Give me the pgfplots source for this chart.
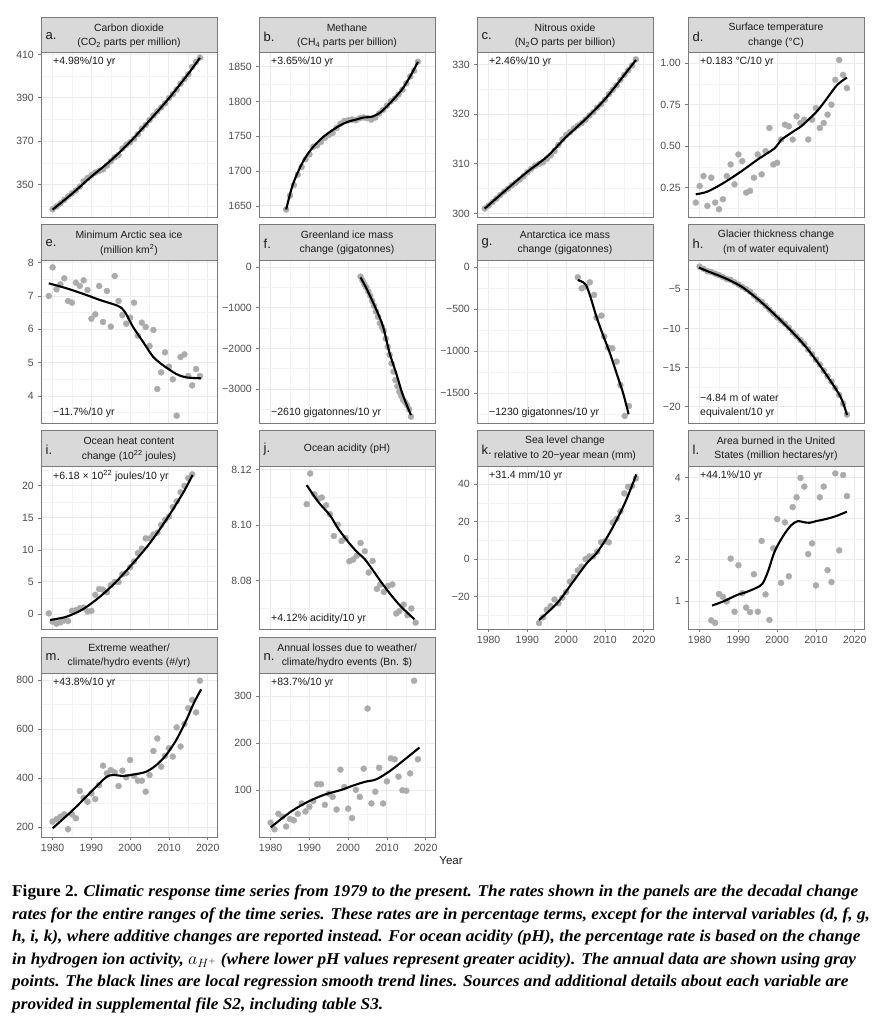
\documentclass[border=0pt]{standalone}
\usepackage{fontspec}
\setmainfont{Liberation Sans}
\newfontfamily\capfont{Liberation Serif}
\usepackage{graphicx}
\usepackage{pgfplots}
\pgfplotsset{compat=1.18}
\definecolor{stripgray}{HTML}{D9D9D9}
\definecolor{framegray}{HTML}{7A7A7A}
\definecolor{gridmaj}{HTML}{EBEBEB}
\definecolor{gridmin}{HTML}{F3F3F3}
\definecolor{ptgray}{HTML}{ABABAB}
\definecolor{ticktext}{HTML}{4D4D4D}
\definecolor{txt}{HTML}{1A1A1A}
\newcommand\tickfont{\fontsize{10.5}{12}\selectfont}
\newcommand\hdrfont{\fontsize{10.4}{12}\selectfont}
\newcommand\notefont{\fontsize{10.5}{12}\selectfont}
\newcommand\lettfont{\fontsize{13}{14}\selectfont}
\pgfplotsset{
  panel/.style={
    scale only axis, width=176pt,
    clip mode=individual,
    xmin=1977, xmax=2022.4,
    xtick={1980,1990,2000,2010,2020},
    minor xtick={1985,1995,2005,2015},
    xticklabels={},
    xtick style={draw=none},
    grid=both,
    major grid style={draw=gridmaj, line width=1pt},
    minor grid style={draw=gridmin, line width=0.5pt},
    axis line style={draw=framegray, line width=0.9pt},
    tick align=outside,
    tick pos=left,
    major tick length=3pt,
    minor tick length=0pt,
    ytick style={draw=framegray, line width=0.8pt},
    yticklabel style={font=\tickfont, text=ticktext, inner sep=0pt, xshift=-4pt},
    anchor=north west,
  },
  bottomx/.style={
    xticklabels={1980,1990,2000,2010,2020},
    xtick style={draw=framegray, line width=0.8pt},
    xticklabel style={font=\tickfont, text=ticktext, inner sep=0pt, yshift=-4pt},
  },
  pts/.style={only marks, mark=*, mark size=3pt, color=ptgray},
  trend/.style={no marks, smooth, black, line width=2.1pt},
}
\newcommand{\strip}[7]{%
  \draw[draw=framegray, line width=0.9pt, fill=stripgray] (#1pt,-#3pt) rectangle (#2pt,-#4pt);
  \node[anchor=west, font=\lettfont, text=txt, inner sep=0pt, xshift=4.5pt, yshift=-19.5pt] at (#1pt,-#3pt) {#5};
  \path (#1pt,-#3pt) -- (#2pt,-#3pt)
    node[midway, font=\hdrfont, text=txt, inner sep=0pt, yshift=-11pt] {#6}
    node[midway, font=\hdrfont, text=txt, inner sep=0pt, yshift=-26pt] {#7};
}
\newcommand{\notetop}[3]{\node[anchor=west, font=\notefont, text=txt, inner sep=0pt] at ({#1pt+12pt},{-#2pt-10pt}) {#3};}
\newcommand{\notebot}[3]{\node[anchor=west, font=\notefont, text=txt, inner sep=0pt] at ({#1pt+12pt},{-#2pt+10pt}) {#3};}
\newcommand\capset[1]{\fontsize{16.5}{20}\selectfont\capfont\bfseries #1}
\newsavebox\capbox
\begin{document}
\savebox\capbox{\capset{Figure 2. \itshape Climatic response time series from 1979 to the present. The rates shown in the panels are the decadal change}}%
\pgfmathsetmacro\capsx{846/\the\wd\capbox}%
\begin{tikzpicture}
\path[use as bounding box] (0pt,0pt) rectangle (882pt,-1024pt);

% ---------- a. CO2
\begin{axis}[panel, at={(41pt,-52pt)}, height=165pt, ymin=335.2, ymax=411.1,
  ytick={350,370,390,410}, minor ytick={340,360,380,400}, yticklabels={350,370,390,410}]
\addplot[pts] coordinates {(1980,338.75)(1981,340.11)(1982,341.45)(1983,343.05)(1984,344.65)(1985,346.12)(1986,347.42)(1987,349.19)(1988,351.57)(1989,353.12)(1990,354.39)(1991,355.61)(1992,356.45)(1993,357.10)(1994,358.83)(1995,360.82)(1996,362.61)(1997,363.73)(1998,366.70)(1999,368.38)(2000,369.55)(2001,371.14)(2002,373.28)(2003,375.80)(2004,377.52)(2005,379.80)(2006,381.90)(2007,383.79)(2008,385.60)(2009,387.43)(2010,389.90)(2011,391.65)(2012,393.85)(2013,396.52)(2014,398.65)(2015,400.83)(2016,404.24)(2017,406.55)(2018,408.52)};
\addplot[trend] coordinates {(1980,338.6)(1985,345.9)(1990,353.8)(1995,361.2)(2000,369.8)(2005,379.6)(2010,389.8)(2015,401.1)(2018,408.4)};
\end{axis}

% ---------- b. CH4
\begin{axis}[panel, at={(259pt,-52pt)}, height=165pt, ymin=1634.2, ymax=1871,
  ytick={1650,1700,1750,1800,1850}, minor ytick={1675,1725,1775,1825}, yticklabels={1650,1700,1750,1800,1850}]
\addplot[pts] coordinates {(1984,1645)(1985,1665)(1986,1680)(1987,1695)(1988,1706)(1989,1717)(1990,1724)(1991,1735)(1992,1737)(1993,1742)(1994,1748)(1995,1752)(1996,1755)(1997,1762)(1998,1768)(1999,1772)(2000,1773)(2001,1774)(2002,1773)(2003,1776)(2004,1777)(2005,1776)(2006,1774)(2007,1777)(2008,1783)(2009,1788)(2010,1794)(2011,1800)(2012,1804)(2013,1810)(2014,1817)(2015,1826)(2016,1836)(2017,1844)(2018,1857)};
\addplot[trend] coordinates {(1984,1645)(1985,1667)(1986,1685)(1988,1710)(1990,1728)(1992,1741)(1994,1751)(1996,1759)(1998,1766)(2000,1771)(2002,1774)(2004,1777)(2006,1778)(2008,1783)(2010,1793)(2012,1805)(2014,1818)(2016,1836)(2018,1857)};
\end{axis}

% ---------- c. N2O
\begin{axis}[panel, at={(477pt,-52pt)}, height=165pt, ymin=299.3, ymax=332.5,
  ytick={300,310,320,330}, minor ytick={305,315,325}, yticklabels={300,310,320,330}]
\addplot[pts] coordinates {(1979,301.0)(1980,301.6)(1981,302.3)(1982,303.0)(1983,303.7)(1984,304.4)(1985,305.0)(1986,305.7)(1987,306.2)(1988,306.8)(1989,307.5)(1990,308.3)(1991,309.0)(1992,309.6)(1993,310.0)(1994,310.3)(1995,311.0)(1996,311.7)(1997,312.6)(1998,313.8)(1999,314.9)(2000,315.8)(2001,316.4)(2002,317.1)(2003,317.7)(2004,318.2)(2005,318.9)(2006,319.7)(2007,320.4)(2008,321.3)(2009,322.0)(2010,322.9)(2011,324.0)(2012,324.9)(2013,325.8)(2014,326.9)(2015,327.9)(2016,328.8)(2017,329.8)(2018,331.0)};
\addplot[trend] coordinates {(1979,301.0)(1985,305.1)(1990,308.4)(1995,311.4)(2000,315.4)(2005,319.0)(2010,323.0)(2015,327.9)(2018,330.9)};
\end{axis}

% ---------- d. temperature
\begin{axis}[panel, at={(688pt,-52pt)}, height=165pt, ymin=0.073, ymax=1.068,
  ytick={0.25,0.5,0.75,1}, minor ytick={0.125,0.375,0.625,0.875}, yticklabels={0.25,0.50,0.75,1.00}]
\addplot[pts] coordinates {(1979,0.16)(1980,0.26)(1981,0.32)(1982,0.14)(1983,0.31)(1984,0.16)(1985,0.12)(1986,0.18)(1987,0.32)(1988,0.39)(1989,0.27)(1990,0.45)(1991,0.41)(1992,0.22)(1993,0.23)(1994,0.31)(1995,0.45)(1996,0.33)(1997,0.47)(1998,0.61)(1999,0.39)(2000,0.40)(2001,0.54)(2002,0.63)(2003,0.62)(2004,0.54)(2005,0.68)(2006,0.64)(2007,0.66)(2008,0.54)(2009,0.66)(2010,0.73)(2011,0.61)(2012,0.64)(2013,0.69)(2014,0.75)(2015,0.90)(2016,1.02)(2017,0.93)(2018,0.85)};
\addplot[trend] coordinates {(1979,0.21)(1982,0.226)(1986,0.276)(1990.6,0.346)(1995,0.42)(1999.3,0.487)(2001,0.537)(2003.6,0.58)(2006.2,0.62)(2007.8,0.654)(2010.4,0.714)(2012.9,0.79)(2015.5,0.87)(2018,0.914)};
\end{axis}

% ---------- e. sea ice
\begin{axis}[panel, at={(41pt,-260pt)}, height=163pt, ymin=3.19, ymax=8.08,
  ytick={4,5,6,7,8}, minor ytick={3.5,4.5,5.5,6.5,7.5}, yticklabels={4,5,6,7,8}]
\addplot[pts] coordinates {(1979,7.0)(1980,7.86)(1981,7.2)(1982,7.35)(1983,7.53)(1984,6.85)(1985,6.8)(1986,7.4)(1987,7.3)(1988,7.47)(1989,7.18)(1990,6.32)(1991,6.45)(1992,7.3)(1993,6.22)(1994,7.15)(1995,6.08)(1996,7.6)(1997,6.85)(1998,6.43)(1999,6.17)(2000,6.35)(2001,6.8)(2002,5.81)(2003,6.2)(2004,6.07)(2005,5.5)(2006,5.98)(2007,4.21)(2008,4.71)(2009,5.31)(2010,4.88)(2011,4.5)(2012,3.41)(2013,5.17)(2014,5.25)(2015,4.6)(2016,4.32)(2017,4.81)(2018,4.6)};
\addplot[trend] coordinates {(1979,7.38)(1983.6,7.23)(1988.7,7.03)(1992.2,6.88)(1996.9,6.70)(1998.6,6.53)(2000.7,6.08)(2003.3,5.63)(2005.9,5.18)(2008.4,4.93)(2011.9,4.66)(2014.4,4.56)(2018.3,4.53)};
\end{axis}

% ---------- f. Greenland
\begin{axis}[panel, at={(259pt,-260pt)}, height=163pt, ymin=-3838, ymax=180,
  ytick={-3000,-2000,-1000,0}, minor ytick={-3500,-2500,-1500,-500}, yticklabels={−3000,−2000,−1000,0}]
\addplot[pts] coordinates {(2003.2,-230)(2003.7,-330)(2004.2,-420)(2004.7,-500)(2005.2,-600)(2005.7,-700)(2006.2,-830)(2006.7,-950)(2007.2,-1090)(2007.7,-1220)(2008.2,-1380)(2008.7,-1470)(2009.2,-1560)(2009.7,-1760)(2010.2,-1960)(2010.7,-2160)(2011.2,-2370)(2011.7,-2570)(2012.2,-2780)(2012.7,-2930)(2013.2,-3070)(2013.7,-3170)(2014.2,-3270)(2014.7,-3330)(2015.2,-3400)(2015.7,-3500)(2016.2,-3680)};
\addplot[trend] coordinates {(2003.2,-250)(2004.7,-518)(2007.3,-1052)(2009,-1463)(2010.7,-2121)(2012.4,-2614)(2014.1,-3148)(2016.2,-3641)};
\end{axis}

% ---------- g. Antarctica
\begin{axis}[panel, at={(477pt,-260pt)}, height=163pt, ymin=-1854, ymax=87,
  ytick={-1500,-1000,-500,0}, minor ytick={-1750,-1250,-750,-250}, yticklabels={−1500,−1000,−500,0}]
\addplot[pts] coordinates {(2003.0,-119)(2004.0,-250)(2005.0,-230)(2006.1,-179)(2007.2,-329)(2007.8,-599)(2009.1,-575)(2009.8,-825)(2010.8,-956)(2011.9,-964)(2013.0,-1123)(2014.0,-1401)(2015.1,-1770)(2016.2,-1651)};
\addplot[trend] coordinates {(2003.0,-151)(2004.9,-198)(2006.1,-329)(2007.8,-587)(2009.5,-806)(2011.3,-1024)(2013.0,-1262)(2014.7,-1500)(2016.1,-1750)};
\end{axis}

% ---------- h. glacier
\begin{axis}[panel, at={(688pt,-260pt)}, height=163pt, ymin=-22.08, ymax=-1.26,
  ytick={-20,-15,-10,-5}, minor ytick={-17.5,-12.5,-7.5,-2.5}, yticklabels={−20,−15,−10,−5}]
\addplot[pts] coordinates {(1980,-2.1)(1981,-2.4)(1982,-2.7)(1983,-2.8)(1984,-3.0)(1985,-3.2)(1986,-3.45)(1987,-3.7)(1988,-3.8)(1989,-4.1)(1990,-4.4)(1991,-4.7)(1992,-5.0)(1993,-5.3)(1994,-5.8)(1995,-6.3)(1996,-6.6)(1997,-7.1)(1998,-7.6)(1999,-8.1)(2000,-8.6)(2001,-9.0)(2002,-9.4)(2003,-9.9)(2004,-10.5)(2005,-11.0)(2006,-11.5)(2007,-12.0)(2008,-12.7)(2009,-13.3)(2010,-14.0)(2011,-14.6)(2012,-15.4)(2013,-16.1)(2014,-16.8)(2015,-17.6)(2016,-18.5)(2017,-19.6)(2018,-21.0)};
\addplot[trend] coordinates {(1979.8,-2.23)(1982.3,-2.74)(1986.6,-3.59)(1990.8,-4.66)(1995.1,-6.3)(1999.3,-8.2)(2003.6,-10.3)(2007.8,-12.6)(2012.1,-15.5)(2016.3,-18.7)(2018,-21.06)};
\end{axis}

% ---------- i. ocean heat
\begin{axis}[panel, at={(41pt,-466pt)}, height=163pt, ymin=-2.34, ymax=23.1,
  ytick={0,5,10,15,20}, minor ytick={2.5,7.5,12.5,17.5,22.5}, yticklabels={0,5,10,15,20}]
\addplot[pts] coordinates {(1979,0.1)(1980,-1.2)(1981,-1.5)(1982,-1.3)(1983,-1.0)(1984,-1.1)(1985,0.5)(1986,0.6)(1987,0.9)(1988,1.0)(1989,0.4)(1990,0.5)(1991,3.0)(1992,3.9)(1993,3.8)(1994,3.4)(1995,4.5)(1996,5.0)(1997,5.0)(1998,6.2)(1999,6.4)(2000,7.3)(2001,8.2)(2002,9.5)(2003,10.2)(2004,11.8)(2005,11.8)(2006,12.4)(2007,12.7)(2008,13.9)(2009,14.7)(2010,15.2)(2011,16.7)(2012,17.6)(2013,19.0)(2014,20.0)(2015,21.2)(2016,21.8)};
\addplot[trend] coordinates {(1979.3,-0.94)(1983.6,-0.42)(1987.9,0.78)(1992.2,2.7)(1996.4,5.05)(2000.7,7.9)(2005,11.0)(2009.3,14.7)(2013.6,18.85)(2016.1,21.7)};
\end{axis}

% ---------- j. ocean acidity
\begin{axis}[panel, at={(259pt,-466pt)}, height=163pt, ymin=8.0625, ymax=8.1214,
  ytick={8.08,8.10,8.12}, minor ytick={8.07,8.09,8.11}, yticklabels={8.08,8.10,8.12}]
\addplot[pts] coordinates {(1989.3,8.1076)(1990.2,8.1187)(1991.3,8.1112)(1992.3,8.1096)(1993.2,8.1100)(1994.3,8.1072)(1995.3,8.1040)(1996.3,8.0961)(1997.3,8.1002)(1998.3,8.0943)(1999.3,8.0954)(2000.3,8.0870)(2001.3,8.0876)(2002.2,8.0890)(2003.2,8.0936)(2004.3,8.0906)(2005.3,8.0829)(2006.3,8.0871)(2007.4,8.0770)(2008.3,8.0786)(2009.2,8.0759)(2010.3,8.0781)(2011.4,8.0786)(2012.4,8.0681)(2013.2,8.0689)(2014.3,8.0713)(2015.3,8.0675)(2016.3,8.0699)(2017.4,8.0648)};
\addplot[trend] coordinates {(1989.3,8.1145)(1992.3,8.1084)(1995.3,8.1036)(1997.4,8.0988)(2000,8.0940)(2002.1,8.0906)(2004.3,8.0877)(2006.4,8.0837)(2008.5,8.0795)(2011.1,8.0747)(2013.7,8.0705)(2017.1,8.0660)};
\end{axis}

% ---------- k. sea level
\begin{axis}[panel, bottomx, at={(477pt,-466pt)}, height=163pt, ymin=-37.2, ymax=49.6,
  ytick={-20,0,20,40}, minor ytick={-30,-10,10,30}, yticklabels={−20,0,20,40}]
\addplot[pts] coordinates {(1993,-34)(1994,-31)(1995,-27)(1996,-25)(1997,-21.5)(1998,-23.5)(1999,-20.5)(2000,-17.5)(2001,-12)(2002,-9.5)(2003,-6)(2004,-4)(2005,0)(2006,1.5)(2007,1.5)(2008,4)(2009,9)(2010,9.5)(2011,9)(2012,19.5)(2013,21.5)(2014,25.5)(2015,35)(2016,38.5)(2017,39)(2018,43)};
\addplot[trend] coordinates {(1993,-32.4)(1997.6,-23.6)(2001.8,-12)(2005.3,-2.25)(2007.8,3.1)(2010.4,11.1)(2013,20.8)(2015.5,31.5)(2018.1,45.1)};
\end{axis}

% ---------- l. area burned
\begin{axis}[panel, bottomx, at={(688pt,-466pt)}, height=163pt, ymin=0.32, ymax=4.28,
  ytick={1,2,3,4}, minor ytick={0.5,1.5,2.5,3.5}, yticklabels={1,2,3,4}]
\addplot[pts] coordinates {(1983,0.53)(1984,0.47)(1985,1.17)(1986,1.10)(1987,0.99)(1988,2.03)(1989,0.74)(1990,1.87)(1991,1.19)(1992,0.84)(1993,0.73)(1994,1.65)(1995,0.74)(1996,2.46)(1997,1.16)(1998,0.54)(1999,2.28)(2000,2.99)(2001,1.44)(2002,2.91)(2003,1.60)(2004,3.28)(2005,3.52)(2006,3.99)(2007,3.78)(2008,2.14)(2009,2.40)(2010,1.38)(2011,3.52)(2012,3.78)(2013,1.75)(2014,1.46)(2015,4.10)(2016,2.23)(2017,4.06)(2018,3.55)};
\addplot[trend] coordinates {(1983.2,0.89)(1986.1,0.99)(1989.5,1.14)(1992.1,1.22)(1994.6,1.32)(1996.2,1.42)(1997.6,1.71)(1999.3,2.19)(2001.4,2.56)(2003.6,2.84)(2005.3,2.94)(2006.6,2.92)(2008.3,2.90)(2010,2.94)(2012.5,2.99)(2015.1,3.06)(2018,3.17)};
\end{axis}

% ---------- m. extreme events
\begin{axis}[panel, bottomx, at={(41pt,-673pt)}, height=164pt, ymin=160.5, ymax=828.5,
  ytick={200,400,600,800}, minor ytick={300,500,700}, yticklabels={200,400,600,800}]
\addplot[pts] coordinates {(1980,223)(1981,233)(1982,243)(1983,253)(1984,192)(1985,253)(1986,237)(1987,348)(1988,320)(1989,304)(1990,338)(1991,315)(1992,372)(1993,451)(1994,420)(1995,433)(1996,423)(1997,368)(1998,431)(1999,404)(2000,474)(2001,409)(2002,390)(2003,390)(2004,345)(2005,413)(2006,511)(2007,562)(2008,447)(2009,491)(2010,522)(2011,488)(2012,607)(2013,529)(2014,621)(2015,685)(2016,719)(2017,668)(2018,797)};
\addplot[trend] coordinates {(1980,196)(1985.2,270)(1989.5,338)(1993.8,404)(1996,413)(1998.1,409)(2001.6,417)(2004.2,427)(2006.8,454)(2009.3,495)(2011.9,556)(2014.5,637)(2016.4,705)(2018.3,762)};
\end{axis}

% ---------- n. losses
\begin{axis}[panel, bottomx, at={(259pt,-673pt)}, height=164pt, ymin=0.6, ymax=349.6,
  ytick={100,200,300}, minor ytick={50,150,250}, yticklabels={100,200,300}]
\addplot[pts] coordinates {(1980,31)(1981,17)(1982,50)(1983,44)(1984,23)(1985,39)(1986,36)(1987,50)(1988,72)(1989,55)(1990,65)(1991,77)(1992,113)(1993,113)(1994,69)(1995,93)(1996,86)(1997,59)(1998,144)(1999,107)(2000,61)(2001,41)(2002,101)(2003,86)(2004,146)(2005,274)(2006,72)(2007,97)(2008,148)(2009,72)(2010,119)(2011,168)(2012,166)(2013,129)(2014,100)(2015,99)(2016,136)(2017,333)(2018,166)};
\addplot[trend] coordinates {(1980,21)(1985.3,55)(1989.7,76)(1994,91)(1998.3,101)(2000.9,109)(2004.3,118)(2006.8,122)(2008.5,129)(2011.1,143)(2014.5,165)(2018.4,191)};
\end{axis}

% ---------- strips
\strip{41}{217}{17}{52}{a.}{Carbon dioxide}{(CO\textsubscript{2} parts per million)}
\strip{259}{435}{17}{52}{b.}{Methane}{(CH\textsubscript{4} parts per billion)}
\strip{477}{653}{17}{52}{c.}{Nitrous oxide}{(N\textsubscript{2}O parts per billion)}
\strip{688}{864}{17}{52}{d.}{Surface temperature}{change (°C)}
\strip{41}{217}{224}{260}{e.}{Minimum Arctic sea ice}{(million km\textsuperscript{2})}
\strip{259}{435}{224}{260}{f.}{Greenland ice mass}{change (gigatonnes)}
\strip{477}{653}{224}{260}{g.}{Antarctica ice mass}{change (gigatonnes)}
\strip{688}{864}{224}{260}{h.}{Glacier thickness change}{(m of water equivalent)}
\strip{41}{217}{430}{466}{i.}{Ocean heat content}{change (10\textsuperscript{22} joules)}
\strip{259}{435}{430}{466}{j.}{}{}
\node[font=\hdrfont, text=txt, inner sep=0pt] at (347pt,-449pt) {Ocean acidity (pH)};
\strip{477}{653}{430}{466}{k.}{Sea level change}{relative to 20−year mean (mm)}
\strip{688}{864}{430}{466}{l.}{Area burned in the United}{States (million hectares/yr)}
\strip{41}{217}{637}{673}{m.}{Extreme weather/}{climate/hydro events (\#/yr)}
\strip{259}{435}{637}{673}{n.}{Annual losses due to weather/}{climate/hydro events (Bn. \$)}

% ---------- notes
\notetop{41}{52}{+4.98\%/10 yr}
\notetop{259}{52}{+3.65\%/10 yr}
\notetop{477}{52}{+2.46\%/10 yr}
\notetop{688}{52}{+0.183 °C/10 yr}
\notebot{41}{423}{−11.7\%/10 yr}
\notebot{259}{423}{−2610 gigatonnes/10 yr}
\notebot{477}{423}{−1230 gigatonnes/10 yr}
\notebot{688}{423}{equivalent/10 yr}
\node[anchor=west, font=\notefont, text=txt, inner sep=0pt] at (700pt,-398pt) {−4.84 m of water};
\notetop{41}{466}{+6.18 × 10\textsuperscript{22} joules/10 yr}
\notebot{259}{629}{+4.12\% acidity/10 yr}
\notetop{477}{466}{+31.4 mm/10 yr}
\notetop{688}{466}{+44.1\%/10 yr}
\notetop{41}{673}{+43.8\%/10 yr}
\notetop{259}{673}{+83.7\%/10 yr}

% ---------- Year
\node[font=\fontsize{11.5}{13}\selectfont, text=txt] at (451pt,-861pt) {Year};

% ---------- caption
\node[anchor=west, inner sep=0pt] at (12pt,-893pt) {\scalebox{\capsx}[1]{\capset{Figure 2. \itshape Climatic response time series from 1979 to the present. The rates shown in the panels are the decadal change}}};
\node[anchor=west, inner sep=0pt] at (12pt,-915.5pt) {\scalebox{\capsx}[1]{\capset{\itshape rates for the entire ranges of the time series. These rates are in percentage terms, except for the interval variables (d, f, g,}}};
\node[anchor=west, inner sep=0pt] at (12pt,-938pt) {\scalebox{\capsx}[1]{\capset{\itshape h, i, k), where additive changes are reported instead. For ocean acidity (pH), the percentage rate is based on the change}}};
\node[anchor=west, inner sep=0pt] at (12pt,-960.5pt) {\scalebox{\capsx}[1]{\capset{\itshape in hydrogen ion activity, $a_{H^{+}}$ (where lower pH values represent greater acidity). The annual data are shown using gray}}};
\node[anchor=west, inner sep=0pt] at (12pt,-983pt) {\scalebox{\capsx}[1]{\capset{\itshape points. The black lines are local regression smooth trend lines. Sources and additional details about each variable are}}};
\node[anchor=west, inner sep=0pt] at (12pt,-1005.5pt) {\scalebox{\capsx}[1]{\capset{\itshape provided in supplemental file S2, including table S3.}}};
\end{tikzpicture}
\end{document}
